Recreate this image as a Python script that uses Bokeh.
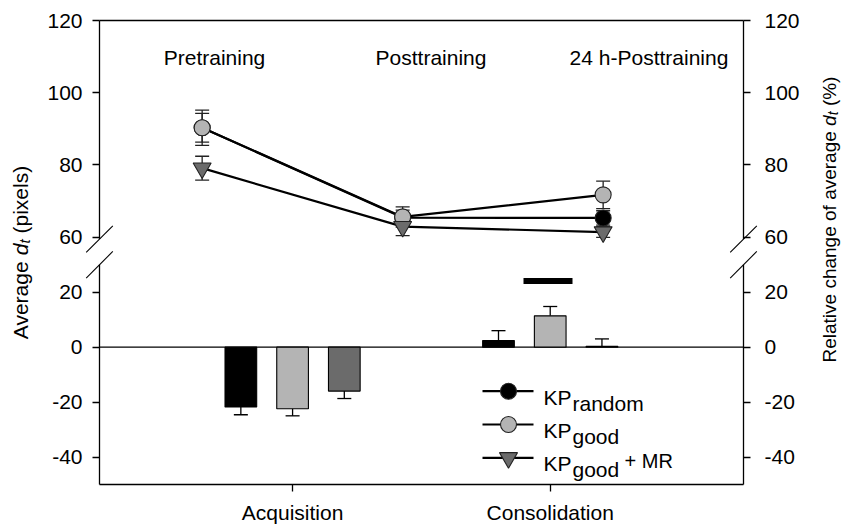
from bokeh.plotting import figure
from bokeh.models import Range1d, LinearAxis, FixedTicker
from bokeh.embed import file_html
from bokeh.resources import INLINE
from bokeh.core.properties import value

# ---------------- data ----------------
phases = ["Pretraining", "Posttraining", "24 h-Posttraining"]
phase_pos = [1, 2, 3]
kp_random = [90.3, 65.4, 65.3]
kp_random_err = [4.0, 2.1, 2.0]
kp_good = [90.3, 65.6, 71.7]
kp_good_err = [4.9, 2.8, 3.8]
kp_good_mr = [79.1, 62.9, 61.4]
kp_good_mr_err = [3.3, 2.5, 1.5]

stages = ["Acquisition", "Consolidation"]
rel_random = [-21.8, 2.4]
rel_random_err = [2.8, 3.6]
rel_good = [-22.4, 11.4]
rel_good_err = [2.6, 3.4]
rel_good_mr = [-16.0, 0.3]
rel_good_mr_err = [2.7, 2.7]
sig_level = 24.1

upper_ticks = [60, 80, 100, 120]
lower_ticks = [-40, -20, 0, 20]
upper_limits = (60, 120)
lower_limits = (-50, 30)

series_main = ["KP", "KP", "KP"]
series_sub = ["random", "good", "good"]
series_suffix = ["", "", "+ MR"]

# ---------------- layout (page pixels) ----------------
FONT = "Liberation Sans"
W, H = 842, 527
BOX_L, BOX_R, BOX_T, BOX_B = 99, 743, 20, 484
box_x = (0.488, 3.700)
XS = (box_x[1] - box_x[0]) / (BOX_R - BOX_L)
UP_PX = 3.61
LO_PX = 2.747


def xd(px):
    return box_x[0] + (px - BOX_L) * XS


def yu(py):
    return upper_limits[1] - (py - BOX_T) / UP_PX


def yl(py):
    return lower_limits[0] + (BOX_B - py) / LO_PX


def lo_page(w):
    return BOX_B - (w - lower_limits[0]) * LO_PX


def lo_to_up(w):
    return yu(lo_page(w))


up = Range1d(yu(H), yu(0))
lo = Range1d(yl(H), yl(0))
xr = Range1d(xd(0), xd(W))

C_BLACK = "#000000"
C_LIGHT = "#b4b4b4"
C_DARK = "#6b6b6b"
C_EDGE = "#222222"
LW = 1.3

p = figure(width=W, height=H, x_range=xr, y_range=up, output_backend="svg",
           toolbar_location=None, x_axis_location=None, y_axis_location=None,
           min_border=0)
p.title.visible = False
p.extra_y_ranges = {"lower": lo}
p.outline_line_color = None
p.xgrid.visible = False
p.ygrid.visible = False
p.background_fill_color = "white"
p.border_fill_color = "white"

# ---- y axes (shared broken scale) ----
tick_vals = [float(t) for t in upper_ticks] + [lo_to_up(w) for w in lower_ticks]
tick_text = [str(t) for t in upper_ticks + lower_ticks]
overrides = dict(zip(tick_vals, tick_text))


def make_yaxis(side, px, standoff):
    ax = LinearAxis(fixed_location=xd(px), bounds=(lo_to_up(lower_limits[0]), upper_limits[1]))
    ax.ticker = FixedTicker(ticks=tick_vals, minor_ticks=[])
    ax.major_label_overrides = overrides
    ax.axis_line_color = None
    ax.major_tick_out = 7
    ax.major_tick_in = 0
    ax.minor_tick_line_color = None
    ax.major_tick_line_color = "black"
    ax.major_tick_line_width = LW
    ax.major_label_standoff = standoff
    ax.major_label_text_font = FONT
    ax.major_label_text_font_size = "21px"
    ax.major_label_text_color = "black"
    p.add_layout(ax, side)


make_yaxis("left", BOX_L, 10)
make_yaxis("right", BOX_R, 14)

# ---- x axis ----
stage_pos = [1.451, 2.736]
xa = LinearAxis(fixed_location=yu(BOX_B), bounds=box_x)
xa.ticker = FixedTicker(ticks=stage_pos, minor_ticks=[])
xa.major_label_overrides = dict(zip(stage_pos, stages))
xa.major_label_text_font = FONT
xa.major_label_text_font_size = "21px"
xa.major_label_text_color = "black"
xa.major_label_standoff = 9
xa.axis_line_color = "black"
xa.axis_line_width = LW
xa.major_tick_out = 7
xa.major_tick_in = 0
xa.major_tick_line_width = LW
xa.minor_tick_line_color = None
p.add_layout(xa, "below")

# ---- plot box with axis breaks ----
brk_up = BOX_T + (upper_limits[1] - upper_limits[0]) * UP_PX + 2
brk_lo = lo_page(lower_limits[1])
bx0, by0, bx1, by1 = [], [], [], []
for (a, b, c, d) in [(BOX_L, BOX_T, BOX_R, BOX_T),
                     (BOX_L, BOX_T, BOX_L, brk_up), (BOX_R, BOX_T, BOX_R, brk_up),
                     (BOX_L, brk_lo, BOX_L, BOX_B), (BOX_R, brk_lo, BOX_R, BOX_B)]:
    bx0.append(xd(a)); by0.append(yu(b)); bx1.append(xd(c)); by1.append(yu(d))
p.segment(x0=bx0, y0=by0, x1=bx1, y1=by1, line_color="black", line_width=LW)

sx0, sy0, sx1, sy1 = [], [], [], []
for cx in (BOX_L, BOX_R):
    for cy in (brk_up, brk_lo):
        sx0.append(xd(cx - 13.3)); sy0.append(yu(cy + 13.3))
        sx1.append(xd(cx + 13.3)); sy1.append(yu(cy - 13.3))
p.segment(x0=sx0, y0=sy0, x1=sx1, y1=sy1, line_color="black", line_width=1.1)

# zero line
p.segment(x0=[box_x[0]], x1=[box_x[1]], y0=[0], y1=[0], line_color="black", line_width=LW,
          y_range_name="lower")

# ---- bars (relative change) ----
offsets = [-0.258, 0.0, 0.258]
BW = 0.158
CAP = 7.0 * XS
bar_series = [(rel_random, rel_random_err, C_BLACK),
              (rel_good, rel_good_err, C_LIGHT),
              (rel_good_mr, rel_good_mr_err, C_DARK)]
for k, (vals, errs, col) in enumerate(bar_series):
    xs = [g + offsets[k] for g in stage_pos]
    ends = [v + e if v >= 0 else v - e for v, e in zip(vals, errs)]
    p.segment(x0=xs, y0=vals, x1=xs, y1=ends, line_color="black", line_width=LW,
              y_range_name="lower")
    p.segment(x0=[x - CAP for x in xs], y0=ends, x1=[x + CAP for x in xs], y1=ends,
              line_color="black", line_width=LW, y_range_name="lower")
    p.vbar(x=xs, top=vals, bottom=0, width=BW, fill_color=col, line_color="black",
           line_width=1.1, y_range_name="lower")

# significance bar
p.segment(x0=[xd(523)], x1=[xd(572)], y0=[sig_level], y1=[sig_level], line_color="black",
          line_width=6, line_cap="butt", y_range_name="lower")

# ---- absolute values (upper part) ----
point_series = [(kp_random, kp_random_err, C_BLACK, "circle", 16),
                (kp_good, kp_good_err, C_LIGHT, "circle", 16),
                (kp_good_mr, kp_good_mr_err, C_DARK, "inverted_triangle", 18)]
for vals, errs, col, mk, sz in point_series:
    p.line(phase_pos, vals, line_color="black", line_width=2.2)
for vals, errs, col, mk, sz in point_series:
    lo_e = [v - e for v, e in zip(vals, errs)]
    hi_e = [v + e for v, e in zip(vals, errs)]
    p.segment(x0=phase_pos, y0=lo_e, x1=phase_pos, y1=hi_e, line_color=C_EDGE, line_width=LW)
    for yy in (lo_e, hi_e):
        p.segment(x0=[x - CAP for x in phase_pos], y0=yy, x1=[x + CAP for x in phase_pos],
                  y1=yy, line_color=C_EDGE, line_width=LW)
for vals, errs, col, mk, sz in point_series:
    p.scatter(phase_pos, vals, marker=mk, size=sz, fill_color=col, line_color=C_EDGE,
              line_width=1.1)

p.text(x=[xd(214), xd(430.5), xd(648.5)], y=[yu(56.7)] * 3, text=phases,
       text_align="center", text_baseline="alphabetic", text_font=value(FONT),
       text_font_size="21px", text_color="black")

# ---- legend ----
row_py = [390.7, 424.0, 457.3]
for (vals, errs, col, mk, sz), py, main, sub, suf in zip(point_series, row_py,
                                                        series_main, series_sub, series_suffix):
    p.segment(x0=[xd(482)], x1=[xd(533)], y0=[yl(py)], y1=[yl(py)], line_color="black",
              line_width=2.2, y_range_name="lower")
    p.scatter([xd(508)], [yl(py)], marker=mk, size=sz, fill_color=col, line_color=C_EDGE,
              line_width=1.1, y_range_name="lower")
    p.text(x=[xd(543)], y=[yl(py + 6)], text=[main], text_baseline="alphabetic",
           text_font=value(FONT), text_font_size="21px", text_color="black",
           y_range_name="lower")
    p.text(x=[xd(572)], y=[yl(py + 12)], text=[sub], text_baseline="alphabetic",
           text_font=value(FONT), text_font_size="21px", text_color="black",
           y_range_name="lower")
    if suf:
        p.text(x=[xd(624)], y=[yl(py + 3)], text=[suf], text_baseline="alphabetic",
               text_font=value(FONT), text_font_size="20px", text_color="black",
               y_range_name="lower")


# ---- axis titles (rotated, composed pieces) ----
def vtext(text, px, py, size, style="normal"):
    p.text(x=[xd(px)], y=[yu(py)], text=[text], angle=90, angle_units="deg",
           text_align="left", text_baseline="alphabetic", text_font=value(FONT),
           text_font_size=f"{size}px", text_font_style=value(style), text_color="black")


bx, y0 = 20.0, 338.7
vtext("Average", bx, y0, 21)
vtext("d", bx, y0 - 84.0, 21, "italic")
vtext("t", bx + 4, y0 - 95.7, 15, "italic")
vtext("(pixels)", bx, y0 - 105.7, 21)

bx, y0 = 828.5, 362
vtext("Relative change of average", bx, y0, 19)
vtext("d", bx, y0 - 236.6, 19, "italic")
vtext("t", bx + 4, y0 - 247.2, 14, "italic")
vtext("(%)", bx, y0 - 256.4, 19)

open("out.html", "w").write(file_html(p, INLINE))
